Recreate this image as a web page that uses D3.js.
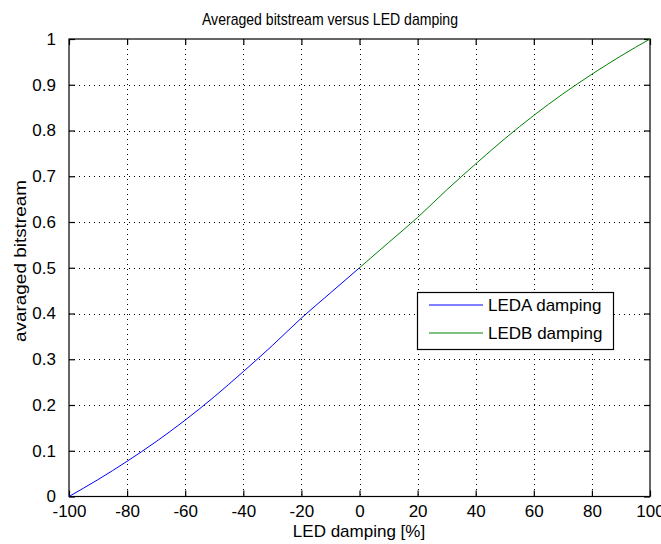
<!DOCTYPE html>
<html>
<head>
<meta charset="utf-8">
<script src="https://cdn.jsdelivr.net/npm/d3@7"></script>
<style>
  html, body { margin: 0; padding: 0; background: #fff; }
  svg text { font-family: "Liberation Sans", Arial, sans-serif; fill: #000; }
</style>
</head>
<body>
<svg id="chart" width="661" height="544"></svg>
<script>
const ledaX = [-100, -90, -80, -70, -60, -50, -40, -30, -20, -10, 0];
const ledaY = [0, 0.037, 0.077, 0.12, 0.167, 0.218, 0.273, 0.33, 0.39, 0.445, 0.5];
const ledbX = [0, 10, 20, 30, 40, 50, 60, 70, 80, 90, 100];
const ledbY = [0.5, 0.555, 0.61, 0.67, 0.727, 0.782, 0.833, 0.88, 0.923, 0.963, 1.0];
const xTicks = [-100, -80, -60, -40, -20, 0, 20, 40, 60, 80, 100];
const yTicks = [0, 0.1, 0.2, 0.3, 0.4, 0.5, 0.6, 0.7, 0.8, 0.9, 1];
const seriesNames = ["LEDA damping", "LEDB damping"];
const seriesColors = ["#0000ff", "#008000"];

const svg = d3.select("#chart");
const L = 69, R = 650, T = 39, B = 496.5;
const x = d3.scaleLinear().domain([-100, 100]).range([L, R]);
const y = d3.scaleLinear().domain([0, 1]).range([B, T]);
const fs = 17;

// grid
const grid = svg.append("g").attr("stroke", "#000").attr("stroke-width", 1)
  .attr("stroke-dasharray", "1,4").attr("shape-rendering", "crispEdges");
xTicks.slice(1, -1).forEach(t => {
  grid.append("line").attr("x1", Math.round(x(t)) + 0.5).attr("x2", Math.round(x(t)) + 0.5)
    .attr("y1", T).attr("y2", B);
});
yTicks.slice(1, -1).forEach(t => {
  grid.append("line").attr("y1", Math.round(y(t)) + 0.5).attr("y2", Math.round(y(t)) + 0.5)
    .attr("x1", L).attr("x2", R);
});

// axes (ticks inside)
const tl = 6;
const gx = svg.append("g").attr("transform", `translate(0,${B})`)
  .call(d3.axisBottom(x).tickValues(xTicks).tickSizeInner(-tl).tickSizeOuter(0).tickPadding(8)
    .tickFormat(d => String(d)));
const gxTop = svg.append("g").attr("transform", `translate(0,${T})`)
  .call(d3.axisTop(x).tickValues(xTicks).tickSizeInner(-tl).tickSizeOuter(0).tickFormat(""));
const gy = svg.append("g").attr("transform", `translate(${L},0)`)
  .call(d3.axisLeft(y).tickValues(yTicks).tickSizeInner(-tl).tickSizeOuter(0).tickPadding(13)
    .tickFormat(d => String(+d.toFixed(1))));
const gyR = svg.append("g").attr("transform", `translate(${R},0)`)
  .call(d3.axisRight(y).tickValues(yTicks).tickSizeInner(-tl).tickSizeOuter(0).tickFormat(""));
[gx, gxTop, gy, gyR].forEach(g => {
  g.select(".domain").remove();
  g.selectAll(".tick line").attr("stroke", "#000").attr("stroke-width", 1.2);
  g.selectAll("text").attr("font-size", fs).attr("font-family", "Liberation Sans, Arial, sans-serif").attr("fill", "#000");
});
gx.selectAll("text").attr("dy", "0.71em");

// box
svg.append("rect").attr("x", L).attr("y", T).attr("width", R - L).attr("height", B - T)
  .attr("fill", "none").attr("stroke", "#000").attr("stroke-width", 1.2);

// lines
const line = d3.line().x(d => x(d[0])).y(d => y(d[1])).curve(d3.curveMonotoneX);
const series = [d3.zip(ledaX, ledaY), d3.zip(ledbX, ledbY)];
series.forEach((s, i) => {
  svg.append("path").datum(s).attr("d", line).attr("fill", "none")
    .attr("stroke", seriesColors[i]).attr("stroke-width", 1);
});

// legend
const lg = svg.append("g");
lg.append("rect").attr("x", 417.5).attr("y", 292.5).attr("width", 196).attr("height", 57)
  .attr("fill", "#fff").attr("stroke", "#000").attr("stroke-width", 1.2);
seriesNames.forEach((n, i) => {
  const yy = 305 + i * 28;
  lg.append("line").attr("x1", 429).attr("x2", 483).attr("y1", yy).attr("y2", yy)
    .attr("stroke", seriesColors[i]).attr("stroke-width", 1);
  lg.append("text").attr("x", 488).attr("y", yy).attr("dy", "0.35em")
    .attr("font-size", fs).text(n);
});

// titles
svg.append("text").attr("x", 202).attr("y", 25)
  .attr("font-size", 17).attr("textLength", 256).attr("lengthAdjust", "spacingAndGlyphs")
  .text("Averaged bitstream versus LED damping");
svg.append("text").attr("x", 359).attr("y", 537).attr("text-anchor", "middle")
  .attr("font-size", fs).text("LED damping [%]");
svg.append("text").attr("transform", `translate(26,${261}) rotate(-90)`)
  .attr("text-anchor", "middle").attr("font-size", 17)
  .attr("textLength", 162).attr("lengthAdjust", "spacingAndGlyphs")
  .text("avaraged bitstream");
</script>
</body>
</html>
